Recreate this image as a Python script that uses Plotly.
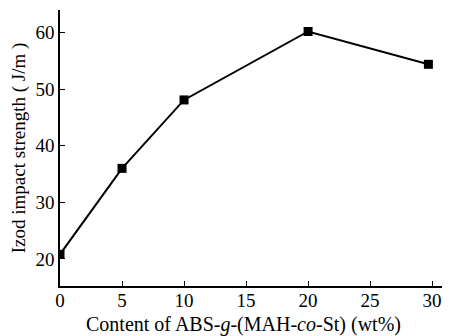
import plotly.graph_objects as go

content = [0, 5, 10, 20, 29.7]
strength = [20.8, 36.0, 48.1, 60.2, 54.4]
x_ticks = [0, 5, 10, 15, 20, 25, 30]
y_ticks = [20, 30, 40, 50, 60]
x_title = "Content of ABS-<i>g</i>-(MAH-<i>co</i>-St) (wt%)"
y_title = "Izod impact strength ( J/m )"

fig = go.Figure(go.Scatter(
    x=content, y=strength, mode="lines+markers",
    line=dict(color="black", width=2),
    marker=dict(symbol="square", size=9, color="black"),
    cliponaxis=True,
))

font = dict(family="Liberation Serif, Times New Roman, serif", color="black")
# page body has an 8px margin, so the figure is offset by (8, 8)
fig.update_layout(
    width=442, height=328,
    margin=dict(l=52, r=3, t=2, b=50, autoexpand=False),
    paper_bgcolor="white", plot_bgcolor="white",
    showlegend=False,
    font=font,
)
fig.update_xaxes(
    range=[0, 31.2], tickvals=x_ticks, ticks="inside", ticklen=5, tickwidth=1,
    tickcolor="black", showline=True, linecolor="black", linewidth=1.5,
    showgrid=False, zeroline=False, tickfont=dict(size=19), automargin=False,
    ticklabelstandoff=-4,
)
fig.update_yaxes(
    range=[15.2, 64], tickvals=y_ticks, ticks="inside", ticklen=5, tickwidth=1,
    tickcolor="black", showline=True, linecolor="black", linewidth=1.5,
    showgrid=False, zeroline=False, tickfont=dict(size=19), automargin=False,
    title=dict(text=y_title, font=dict(size=19), standoff=19),
)
fig.add_annotation(
    text=x_title, xref="paper", yref="paper", x=0.473, y=-0.14,
    xanchor="center", yanchor="middle", showarrow=False, font=dict(size=20),
)
fig.write_html("out.html")
